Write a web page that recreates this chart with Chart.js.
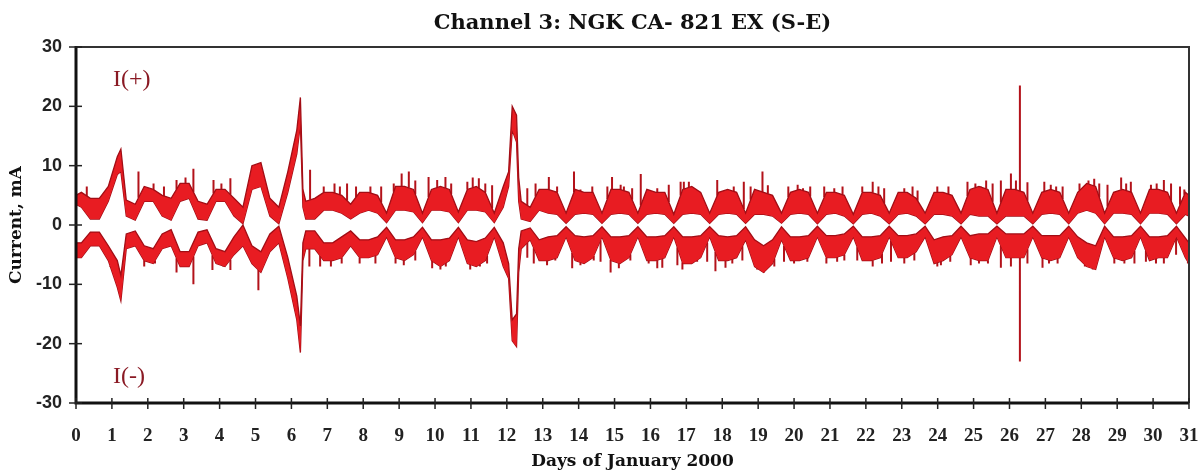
<!DOCTYPE html>
<html><head><meta charset="utf-8">
<script src="https://cdn.jsdelivr.net/npm/chart.js@4.4.1/dist/chart.umd.min.js"></script>
<style>html,body{margin:0;padding:0;background:#fff;}#wrap{width:1203px;height:475px;}</style>
</head><body><div id="wrap"><canvas id="c" width="1203" height="475"></canvas></div>
<script>
// ---- DATA ----
const days = [
 0, 0.15, 0.4, 0.65, 0.9,
 1.15, 1.25, 1.4, 1.65, 1.9,
 2.15, 2.4, 2.65, 2.9,
 3.15, 3.4, 3.65, 3.9,
 4.15, 4.4, 4.65, 4.9,
 5.15, 5.4, 5.65, 5.9,
 6.15, 6.25, 6.32, 6.4, 6.65, 6.9,
 7.15, 7.4, 7.65, 7.9,
 8.15, 8.4, 8.65, 8.9,
 9.15, 9.4, 9.65, 9.9,
 10.15, 10.4, 10.65, 10.9,
 11.15, 11.4, 11.65, 11.9,
 12.05, 12.15, 12.27, 12.33, 12.4, 12.65, 12.9,
 13.15, 13.4, 13.65, 13.9,
 14.15, 14.4, 14.65, 14.9,
 15.15, 15.4, 15.65, 15.9,
 16.15, 16.4, 16.65, 16.9,
 17.15, 17.4, 17.65, 17.9,
 18.15, 18.4, 18.65, 18.9,
 19.15, 19.4, 19.65, 19.9,
 20.15, 20.4, 20.65, 20.9,
 21.15, 21.4, 21.65, 21.9,
 22.15, 22.4, 22.65, 22.9,
 23.15, 23.4, 23.65, 23.9,
 24.15, 24.4, 24.65, 24.9,
 25.15, 25.4, 25.65, 25.9,
 26.15, 26.4, 26.65, 26.9,
 27.15, 27.4, 27.65, 27.9,
 28.15, 28.4, 28.65, 28.9,
 29.15, 29.4, 29.65, 29.9,
 30.15, 30.4, 30.65, 30.9,
 31
];
// I(+) band: outer (upper) edge and inner (lower) edge, mA
const posOuter = [
 5, 5.5, 4.5, 4.5, 6.5,
 11.5, 12.8, 4.2, 3.5, 6.5,
 6, 5, 4.5, 7,
 7, 4, 3.5, 6,
 6, 4.5, 3, 10,
 10.5, 4.5, 3, 9,
 16, 21.5, 6, 4, 4.5, 5.5,
 5.5, 5, 3.5, 5.5,
 5.5, 5, 2, 6.5,
 6.5, 6, 2, 6,
 6.5, 6, 2.2, 6,
 6.5, 5.5, 2, 6.5,
 9, 20, 18.5, 8, 4, 3, 6,
 6, 5.5, 2, 6,
 5.5, 5.5, 2, 6,
 6, 5.5, 2, 6,
 5.5, 5.5, 1.8, 6,
 6.5, 5.5, 2, 5.5,
 6, 5.5, 2, 6,
 5.5, 5, 2, 5.5,
 6, 5.5, 2, 5.5,
 5.5, 5, 1.8, 5.5,
 5.5, 5, 2, 5.5,
 5.5, 4.5, 2, 5.5,
 5.5, 5, 2, 6,
 6.5, 6, 2, 6,
 6, 5.5, 2, 5.5,
 6, 5.5, 2, 5.5,
 7, 6.5, 2, 5.5,
 6, 5.5, 2, 6,
 6, 5.5, 2, 5.5,
 5
];
const posInner = [
 3.5, 3, 1, 1, 4,
 8.5, 9, 1.5, 0.8, 4,
 4, 1.5, 0.8, 4,
 4.5, 1, 0.8, 4,
 4, 1.5, 0.2, 6,
 6.5, 1.5, 0.2, 5.5,
 12, 17, 3, 1, 1, 2.5,
 2.5, 2, 1, 2,
 2.5, 2, 0.4, 2.5,
 2.5, 2.2, 0.4, 2.5,
 2.5, 2.2, 0.4, 2.5,
 2.5, 2.2, 0.4, 3,
 6.5, 16, 14, 4, 1, 0.6, 2.5,
 2, 1.8, 0.3, 1.8,
 2, 1.8, 0.3, 1.8,
 2, 1.8, 0.3, 1.8,
 2, 1.8, 0.3, 1.8,
 2, 1.8, 0.3, 1.8,
 2, 1.8, 0.3, 1.8,
 1.8, 1.5, 0.3, 1.8,
 2, 1.8, 0.2, 1.8,
 2, 1.5, 0.2, 1.8,
 2, 1.5, 0.2, 1.8,
 2, 1.5, 0.2, 1.8,
 1.8, 1.5, 0.2, 1.8,
 1.5, 1.5, 0.2, 1.5,
 1.5, 1.5, 0.2, 1.8,
 2, 1.8, 0.2, 2,
 2.5, 2, 0.2, 2,
 2, 1.8, 0.2, 2,
 2, 1.8, 0.2, 1.8,
 1.5
];
// I(-) band: inner (upper) edge and outer (lower) edge, mA
const negInner = [
 -3, -3, -1.2, -1.2, -3.5,
 -6, -8.5, -1.5, -1, -3.5,
 -4, -1.5, -0.8, -4.5,
 -4.5, -1.2, -0.8, -4,
 -4.5, -2, 0, -3.5,
 -4.5, -1.5, -0.2, -5.5,
 -12, -17, -3, -1, -1, -3,
 -3, -2, -1, -2.5,
 -2.5, -2, -0.4, -2.5,
 -2.5, -2, -0.4, -2.5,
 -2.5, -2.2, -0.4, -2.5,
 -2.8, -2.2, -0.4, -3,
 -6.5, -16, -15, -4, -1, -0.5, -2.5,
 -2, -1.8, -0.3, -1.8,
 -2, -1.8, -0.3, -2,
 -2, -1.8, -0.3, -2,
 -2, -1.8, -0.3, -2,
 -2, -1.8, -0.3, -1.8,
 -2, -1.8, -0.3, -2.5,
 -3.5, -2.5, -0.3, -2,
 -2, -1.8, -0.2, -1.8,
 -1.8, -1.5, -0.2, -2,
 -2, -1.8, -0.2, -1.8,
 -1.8, -1.5, -0.2, -2.5,
 -2, -1.8, -0.2, -1.8,
 -1.5, -1.5, -0.2, -1.5,
 -1.5, -1.5, -0.2, -1.8,
 -1.8, -1.8, -0.2, -2,
 -3, -3.5, -0.2, -2,
 -2, -1.8, -0.2, -2,
 -2, -1.8, -0.2, -2.2,
 -3
];
const negOuter = [
 -5.5, -5.5, -3.5, -3.5, -6,
 -10.5, -12.8, -4, -3.5, -6,
 -6.5, -4, -3.5, -7,
 -7, -3.5, -3, -6.5,
 -7, -5, -3.5, -6.5,
 -8, -4.5, -3, -9,
 -16, -21.5, -6, -4, -4, -6,
 -6, -5.5, -3.5, -5.5,
 -5.5, -5, -2, -5.5,
 -6, -5, -2, -6,
 -7, -6, -2, -6.5,
 -7, -6, -2, -7,
 -9, -19.5, -20.5, -8, -4, -2.5, -6,
 -6, -5.5, -2, -6,
 -6.5, -5.5, -2, -6,
 -6.5, -5.5, -2, -6,
 -6, -5.5, -2, -6.5,
 -6.5, -5.5, -2, -6,
 -6, -5.5, -2.5, -7,
 -8, -6.5, -2.5, -6,
 -6, -5.5, -2, -5.5,
 -5.5, -5, -2, -6,
 -6, -5.5, -2, -5.5,
 -5.5, -4.5, -2, -6.5,
 -6, -5, -2, -5.5,
 -6, -6, -2, -5.5,
 -5.5, -5.5, -2, -5.5,
 -6, -5.5, -2, -5.5,
 -7, -7.5, -2, -5.5,
 -6, -5.5, -2, -6,
 -5.5, -5.5, -2, -5.5,
 -6.5
];
// short current spikes (day, peak mA)
const posSpikeDays = [0.3, 0.95, 1.74, 2.16, 2.45, 2.8, 3.05, 3.27, 3.83, 4.05, 4.3, 6.52, 6.9, 7.2, 7.35, 7.55, 7.8,
 8.2, 8.5, 8.85, 9.07, 9.27, 9.45, 9.82, 10.06, 10.29, 10.45, 10.9, 11.05, 11.22, 11.4, 11.59, 12.57, 12.8, 13.17, 13.4,
 13.87, 14.05, 14.38, 14.8, 14.93, 15.17, 15.26, 15.49, 15.73, 16.19, 16.51, 16.84, 16.93, 17.07, 17.86, 18.32, 18.6, 18.79, 19.12, 19.27,
 19.84, 20.1, 20.25, 20.45, 20.84, 21.12, 21.35, 21.9, 22.19, 22.35, 22.51, 23.07, 23.3, 23.44, 23.99, 24.3, 24.83, 25.05, 25.2, 25.35, 25.53, 25.76,
 26.04, 26.18, 26.29, 26.5, 26.97, 27.15, 27.3, 27.48, 27.95, 28.2, 28.36, 28.5, 28.73, 29.11, 29.25, 29.38, 29.94, 30.1, 30.3, 30.5, 30.75, 30.87];
const posSpikeVals = [6.5, 7.5, 9, 7, 6.5, 7.6, 8, 9.5, 7.6, 7, 7.9, 9.3, 6.5, 7, 6.5, 7, 6.5,
 6.5, 6.5, 7, 8.7, 9, 7.5, 8.1, 7.6, 8.1, 7, 7.3, 8, 7.9, 7, 6.7, 6.2, 7, 8.1, 6.5,
 9, 6, 6.5, 6.5, 8.1, 6.8, 6.5, 6.2, 8.6, 6.2, 6.8, 7.3, 7.3, 7.3, 7.6, 6.5, 7.3, 6.5, 9, 6.7,
 6.5, 6.8, 6.2, 6.5, 6.5, 6.2, 6.5, 6.5, 7.3, 6.5, 6.2, 6.2, 6.5, 5.8, 6.5, 6.5, 7.3, 7, 6.5, 7.5, 7, 7.5,
 8.7, 7.5, 23.5, 7.2, 7.3, 6.8, 6.5, 6.5, 7, 7.5, 7.8, 7, 6.8, 8, 7, 7.3, 6.8, 7, 7.6, 7, 6.5, 6];
const negSpikeDays = [0.95, 1.9, 2.2, 2.8, 3.27, 3.8, 4.1, 4.3, 5.08, 6.5, 6.8, 7.1, 7.4, 7.9,
 8.34, 8.9, 9.13, 9.45, 9.92, 10.15, 10.3, 10.98, 11.25, 11.45, 12.57, 12.75, 13.12, 13.35,
 13.82, 14.05, 14.42, 14.61, 14.89, 15.12, 15.44, 15.95, 16.19, 16.33, 16.75, 16.89, 17.3, 17.58, 17.81, 18.09, 18.28, 18.56, 18.97, 19.16,
 19.45, 19.72, 20.0, 20.37, 20.9, 21.2, 21.4, 21.76, 22.19, 22.45, 22.7, 23.07, 23.35, 23.99, 24.09, 24.35, 24.92, 25.15, 25.4, 25.76,
 26.04, 26.29, 26.5, 26.92, 27.1, 27.34, 28.1, 28.32, 28.92, 29.2, 29.48, 29.8, 30.08, 30.3, 30.64, 30.97];
const negSpikeVals = [-7, -7, -6.5, -8, -10, -7.6, -7, -7.6, -11, -7, -7, -7, -6.5, -6.5,
 -6.5, -6.5, -6.8, -6, -7.3, -7.5, -7, -7.5, -7, -6.5, -5.5, -6.5, -6.8, -6,
 -7.3, -6.8, -6, -6.2, -8, -7.3, -6, -6.5, -7.3, -7.2, -6.8, -7.5, -6.2, -6.2, -7.8, -7.2, -6.5, -6, -7.5, -8,
 -7, -6.2, -6.5, -6.2, -6.5, -6.2, -6, -6, -7, -6.5, -6.2, -6.5, -6, -7, -6.8, -6.2, -6.8, -6.5, -6.5, -7.2,
 -7, -23, -6.5, -7.2, -6.5, -6.5, -7, -7.5, -6.5, -6.5, -6.5, -6.2, -6.5, -6.5, -5, -6.5];
const xTickLabels = ['0','1','2','3','4','5','6','7','8','9','10','11','12','13','14','15','16','17','18','19','20','21','22','23','24','25','26','27','28','29','30','31'];
const yTickValues = [-30, -20, -10, 0, 10, 20, 30];
const seriesLabels = ['I(+)', 'I(-)'];

// ---- helpers ----
function edgeAt(xs, ys, x) {
  for (let i = 1; i < xs.length; i++) {
    if (x <= xs[i]) { const t = (x - xs[i-1]) / (xs[i] - xs[i-1]); return ys[i-1] + t * (ys[i] - ys[i-1]); }
  }
  return ys[ys.length - 1];
}
function pts(arr) { return days.map((d, i) => ({x: d, y: arr[i]})); }
function spikes(ds, vs, edge) {
  const out = [];
  ds.forEach((d, i) => { out.push({x: d, y: edgeAt(days, edge, d)}); out.push({x: d, y: vs[i]}); out.push({x: d, y: null}); });
  return out;
}

const FILL = '#e81c22', EDGE = '#a20d15', SPK = '#b3121a';
const lineDs = (label, data, fill) => ({label, data, fill, borderColor: EDGE, backgroundColor: FILL, borderWidth: 1.3, pointRadius: 0, tension: 0, spanGaps: false});

const framePlugin = {
  id: 'frame',
  afterDatasetsDraw(chart) {
    const {ctx, chartArea: a, scales} = chart;
    ctx.save();
    ctx.strokeStyle = '#333'; ctx.lineWidth = 2;
    ctx.beginPath(); ctx.moveTo(a.left, a.top); ctx.lineTo(a.right, a.top); ctx.lineTo(a.right, a.bottom); ctx.stroke();
    ctx.strokeStyle = '#111'; ctx.lineWidth = 3;
    ctx.beginPath(); ctx.moveTo(a.left, a.top - 1); ctx.lineTo(a.left, a.bottom); ctx.lineTo(a.right, a.bottom); ctx.stroke();
    ctx.lineWidth = 1.5; ctx.strokeStyle = '#222';
    xTickLabels.forEach((l, i) => { const px = scales.x.getPixelForValue(i); ctx.beginPath(); ctx.moveTo(px, a.bottom - 5); ctx.lineTo(px, a.bottom + 6); ctx.stroke(); });
    yTickValues.forEach(v => { const py = scales.y.getPixelForValue(v); ctx.beginPath(); ctx.moveTo(a.left - 7, py); ctx.lineTo(a.left + 6, py); ctx.stroke(); });
    ctx.restore();
  },
  afterDraw(chart) {
    const {ctx, chartArea: a, scales} = chart;
    ctx.save();
    ctx.fillStyle = '#111';
    ctx.font = 'bold 21px "DejaVu Serif"';
    ctx.textAlign = 'center'; ctx.textBaseline = 'alphabetic';
    ctx.fillText('Channel 3: NGK CA- 821 EX (S-E)', (a.left + a.right) / 2, 29);
    ctx.fillStyle = '#8a1a24';
    ctx.font = '24px "Liberation Serif"';
    ctx.textAlign = 'left'; ctx.textBaseline = 'middle';
    ctx.fillText(seriesLabels[0], scales.x.getPixelForValue(1.03), scales.y.getPixelForValue(24.5));
    ctx.fillText(seriesLabels[1], scales.x.getPixelForValue(1.03), scales.y.getPixelForValue(-25.5));
    ctx.restore();
  }
};

new Chart(document.getElementById('c'), {
  type: 'line',
  data: {
    datasets: [
      lineDs(seriesLabels[0], pts(posOuter), '+1'),
      lineDs(seriesLabels[0] + ' inner', pts(posInner), false),
      lineDs(seriesLabels[1] + ' inner', pts(negInner), '+1'),
      lineDs(seriesLabels[1], pts(negOuter), false),
      {label: 'spk+', data: spikes(posSpikeDays, posSpikeVals, posOuter), borderColor: SPK, borderWidth: 2, pointRadius: 0, fill: false, spanGaps: false},
      {label: 'spk-', data: spikes(negSpikeDays, negSpikeVals, negOuter), borderColor: SPK, borderWidth: 2, pointRadius: 0, fill: false, spanGaps: false}
    ]
  },
  options: {
    responsive: false, animation: false, devicePixelRatio: 1,
    layout: {padding: {top: 47, right: 14, left: 0, bottom: 0}},
    plugins: {legend: {display: false}, tooltip: {enabled: false}, title: {display: false}},
    scales: {
      x: {
        type: 'linear', min: 0, max: 31,
        afterFit: s => { s.height = 72; s.paddingLeft = 0; s.paddingRight = 0; },
        afterBuildTicks: s => { s.ticks = xTickLabels.map((l, i) => ({value: i})); },
        ticks: {autoSkip: false, maxRotation: 0, padding: 22, color: '#222',
          font: {family: 'Liberation Serif', weight: 'bold', size: 19},
          callback: v => xTickLabels[v]},
        grid: {display: false, drawTicks: false}, border: {display: false},
        title: {display: true, text: 'Days of January 2000', color: '#111',
          font: {family: 'DejaVu Serif', weight: 'bold', size: 17}, padding: {top: 0, bottom: 3}}
      },
      y: {
        min: -30, max: 30,
        afterFit: s => { s.width = 76; },
        afterBuildTicks: s => { s.ticks = yTickValues.map(v => ({value: v})); },
        ticks: {padding: 14, color: '#222', font: {family: 'Liberation Sans', weight: 'bold', size: 18}},
        grid: {display: false, drawTicks: false}, border: {display: false},
        title: {display: true, text: 'Current, mA', color: '#111',
          font: {family: 'DejaVu Serif', weight: 'bold', size: 17}, padding: {top: 6, bottom: 0}}
      }
    }
  },
  plugins: [framePlugin]
});
</script></body></html>
